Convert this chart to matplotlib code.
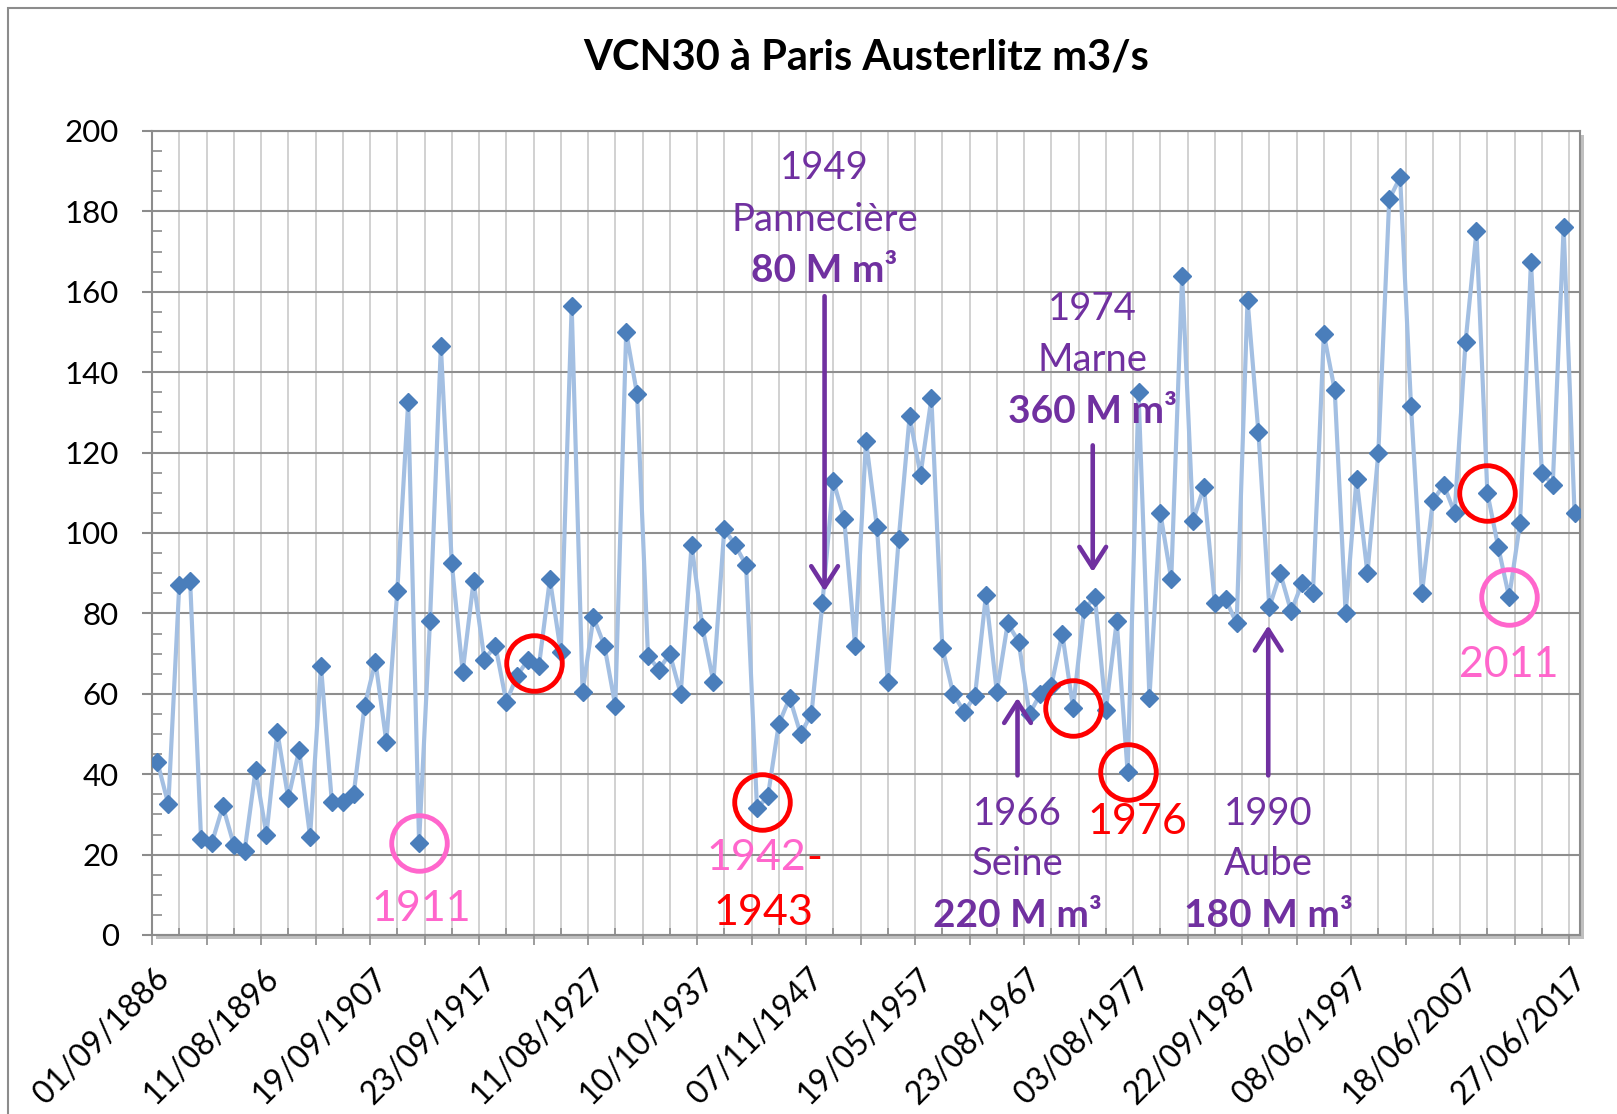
import numpy as np
import matplotlib
matplotlib.use("Agg")
import matplotlib.pyplot as plt
import matplotlib.patheffects as pe
from matplotlib.patches import Rectangle
from matplotlib.ticker import MultipleLocator

plt.rcParams['font.family'] = ['Lato', 'DejaVu Sans']

# VCN30 (m3/s), one value per year, 1886 -> 2017
vcn30 = [
    43, 32.5, 87, 88, 24, 23, 32, 22.5, 21, 41,
    25, 50.5, 34, 46, 24.5, 67, 33, 33, 35, 57,
    68, 48, 85.5, 132.5, 23, 78, 146.5, 92.5, 65.5, 88,
    68.5, 72, 58, 64.5, 68.5, 67, 88.5, 70.5, 156.5, 60.5,
    79, 72, 57, 150, 134.5, 69.5, 66, 70, 60, 97,
    76.5, 63, 101, 97, 92, 31.5, 34.5, 52.5, 59, 50,
    55, 82.5, 113, 103.5, 72, 123, 101.5, 63, 98.5, 129,
    114.5, 133.5, 71.5, 60, 55.5, 59.5, 84.5, 60.5, 77.5, 73,
    55, 60, 62, 75, 56.5, 81, 84, 56, 78, 40.5,
    135, 59, 105, 88.5, 164, 103, 111.5, 82.5, 83.5, 77.5,
    158, 125, 81.5, 90, 80.5, 87.5, 85, 149.5, 135.5, 80,
    113.5, 90, 120, 183, 188.5, 131.5, 85, 108, 112, 105,
    147.5, 175, 110, 96.5, 84, 102.5, 167.5, 115, 112, 176,
    105,
]

date_labels = ['01/09/1886', '11/08/1896', '19/09/1907', '23/09/1917',
               '11/08/1927', '10/10/1937', '07/11/1947', '19/05/1957',
               '23/08/1967', '03/08/1977', '22/09/1987', '08/06/1997',
               '18/06/2007', '27/06/2017']

# circled years (indices of the points)
red_circles = [(34, 35), (55, 56), (84,), (89,), (122,)]
pink_circles = [(24,), (124,)]

PURPLE = '#7030A0'
PINK = '#FF66CC'
RED = '#FF0000'

W, H = 1617, 1114
fig = plt.figure(figsize=(W / 100, H / 100), dpi=100)
fig.patch.set_facecolor('white')

# outer chart frame
fig.patches.append(Rectangle((8 / W, -0.1), 1.2, 1.1 - 8 / H, transform=fig.transFigure,
                             fill=False, edgecolor='#8C8C8C', lw=1.5))

ax = fig.add_axes([152 / W, 1 - 935 / H, (1580 - 152) / W, (935 - 131) / H])
ax.patch.set_path_effects([pe.SimplePatchShadow(offset=(3, -3), alpha=0.35), pe.Normal()])

x = np.arange(len(vcn30))
ax.plot(x, vcn30, color='#A3BFE2', lw=3, zorder=3)
ax.plot(x, vcn30, ls='none', marker='D', ms=9, color='#4A7EBB', zorder=4)

ax.set_xlim(-0.5, len(vcn30) - 0.5)
ax.set_ylim(0, 200)

# axes, ticks, grid
for s in ax.spines.values():
    s.set_color('#8C8C8C')
    s.set_linewidth(1.5)
ax.set_xticks(np.arange(-0.5, len(vcn30), 5))
ax.set_xticks(np.arange(2, len(vcn30), 5), minor=True)
ax.set_xticklabels([])
ax.tick_params(axis='x', which='major', direction='out', length=7, color='#8C8C8C', width=1.2)
ax.tick_params(axis='x', which='minor', direction='in', length=5, color='#8C8C8C', width=1.2)
ax.xaxis.grid(True, which='both', color='#CACACA', lw=1.2)

ax.yaxis.set_major_locator(MultipleLocator(20))
ax.yaxis.set_minor_locator(MultipleLocator(5))
ax.tick_params(axis='y', which='major', direction='out', length=7, color='#8C8C8C',
               width=1.5, labelsize=22.5, pad=17)
ax.tick_params(axis='y', which='minor', direction='in', length=7, color='#8C8C8C', width=1.2)
ax.yaxis.grid(True, which='major', color='#8E8E8E', lw=1.5)
ax.set_axisbelow(True)

for i, lab in enumerate(date_labels):
    ax.text(i * 10 - 0.3, -0.035, lab, transform=ax.get_xaxis_transform(),
            rotation=45, ha='right', va='top', rotation_mode='anchor', fontsize=23)

fig.text((152 + 1580) / 2 / W, 1 - 58 / H, 'VCN30 à Paris Austerlitz m3/s',
         ha='center', va='center', fontsize=30, fontweight='bold')

# circles
for groups, col in [(red_circles, RED), (pink_circles, PINK)]:
    cx = [np.mean(g) for g in groups]
    cy = [np.mean([vcn30[i] for i in g]) for g in groups]
    ax.plot(cx, cy, ls='none', marker='o', ms=40, mfc='none', mec=col, mew=3.5, zorder=5)

# coloured years
ax.text(24.2, 6.4, '1911', color=PINK, fontsize=31, ha='center', va='center')
ax.text(124.0, 67.2, '2011', color=PINK, fontsize=31, ha='center', va='center')
ax.text(59.5, 19.2, '1942', color=PINK, fontsize=31, ha='right', va='center')
ax.text(59.55, 19.2, '-', color=RED, fontsize=31, ha='left', va='center')
ax.text(55.55, 5.4, '1943', color=RED, fontsize=31, ha='center', va='center')
ax.text(89.9, 28.2, '1976', color=RED, fontsize=31, ha='center', va='center')


def dam_label(xc, ys, lines):
    for yy, txt, bold in zip(ys, lines, [False, False, True]):
        ax.text(xc, yy, txt, color=PURPLE, fontsize=28 if bold else 27.5,
                ha='center', va='center',
                fontweight='bold' if bold else 'normal', zorder=6)


def dam_arrow(xc, y_from, y_to):
    ax.annotate('', xy=(xc, y_to), xytext=(xc, y_from),
                arrowprops=dict(arrowstyle='->,head_length=0.5,head_width=0.32',
                                lw=3.3, color=PURPLE, mutation_scale=30,
                                shrinkA=0, shrinkB=0), zorder=6)


dam_label(61.2, [190.7, 177.8, 165.4], ['1949', 'Pannecière', '80 M m³'])
dam_arrow(61.2, 158.9, 85.5)
dam_label(85.8, [155.7, 143.0, 130.2], ['1974', 'Marne', '360 M m³'])
dam_arrow(85.8, 121.8, 90.3)
dam_label(78.9, [30.2, 17.7, 4.9], ['1966', 'Seine', '220 M m³'])
dam_arrow(78.9, 39.7, 59.0)
dam_label(101.9, [30.2, 17.7, 4.9], ['1990', 'Aube', '180 M m³'])
dam_arrow(101.9, 39.7, 77.0)

fig.savefig('out.png', dpi=100)
